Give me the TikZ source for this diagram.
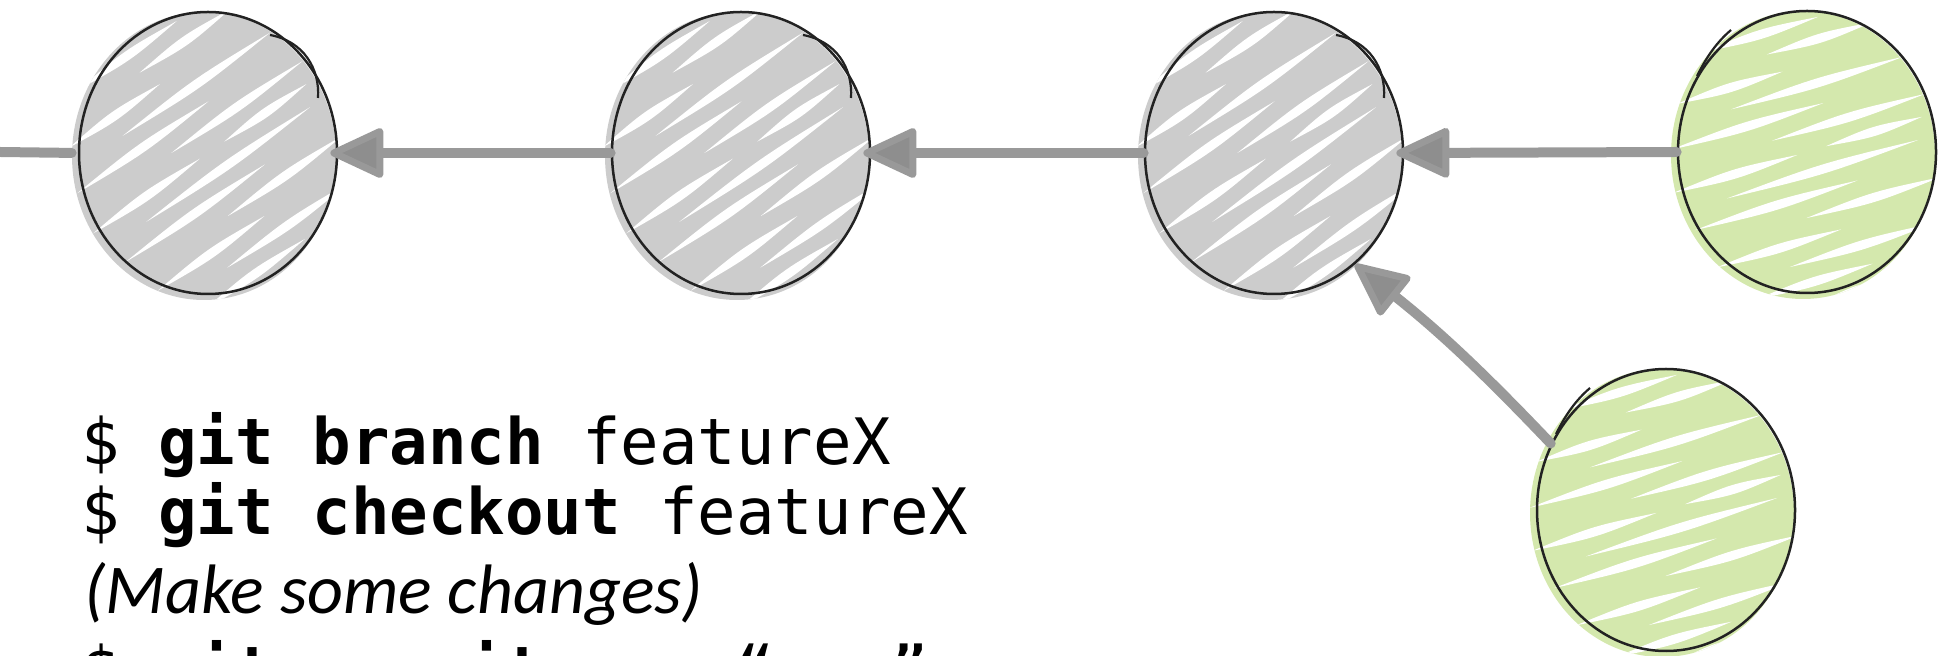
\documentclass[tikz,border=0pt]{standalone}
\usepackage{fontspec}
\setmonofont{DejaVu Sans Mono}
\newfontfamily\notefont{Carlito}
\usetikzlibrary{shapes.geometric, arrows.meta, calc}
\definecolor{commitgray}{HTML}{CCCCCC}
\definecolor{commitgreen}{HTML}{D4E8AD}
\definecolor{edgegray}{HTML}{999999}
\definecolor{tipgray}{HTML}{8E8E8E}
\definecolor{inkblack}{HTML}{222222}
\newcommand\commitbody[3]{%
  \fill[#2] ($(#1.center)+(-4,3)$) ellipse [x radius=66pt, y radius=72pt];
  \begin{scope}
    \clip ($(#1.center)+(-4,3)$) ellipse [x radius=66pt, y radius=72pt];
    \begin{scope}[shift={(#1.center)}, rotate=#3]
      \foreach \k/\p/\q in {-7/-40/30, -6/-70/50, -5/-10/100, -4/-110/0, -3/-60/120, -2/-130/30, -1/-30/130, 0/-140/-10, 0/20/120, 1/-90/110, 2/-130/40, 3/-20/120, 4/-120/10, 5/-50/100, 6/-90/30, 7/-30/50}
        \fill[white] (\p,\k*21) .. controls ({(\p+\q)/2},\k*21-6) .. (\q,\k*21) .. controls ({(\p+\q)/2},\k*21+6) .. cycle;
    \end{scope}
  \end{scope}
  \draw[inkblack, line width=1.25pt] (#1.center) ellipse [x radius=64.5pt, y radius=70.5pt];
}
\newcommand\graycommit[1]{%
  \commitbody{#1}{commitgray}{35}
  \begin{scope}[shift={(#1.center)}]
    \draw[inkblack, line width=1.1pt] (62,-118) .. controls (95,-112) and (112,-85) .. (110,-55);
  \end{scope}
}
\newcommand\greencommit[1]{%
  \commitbody{#1}{commitgreen}{17}
  \begin{scope}[shift={(#1.center)}]
    \draw[inkblack, line width=1.1pt] (-110,-76) .. controls (-100,-96) and (-90,-110) .. (-76,-122);
  \end{scope}
}
\begin{document}
\begin{tikzpicture}[x=0.5pt, y=-0.5pt,
  commit/.style={ellipse, inner sep=0pt, minimum width=130pt, minimum height=142pt},
  edge/.style={draw=edgegray, line width=5pt, line cap=round, line join=round},
  tip/.style={-{Triangle[length=29pt, width=26pt, line width=3.5pt, fill=tipgray, round]}},
  cmd/.style={anchor=base west, inner sep=0pt, font=\ttfamily\fontsize{32}{38}\selectfont},
  note/.style={anchor=base west, inner sep=0pt, font=\notefont\itshape\fontsize{35}{40}\selectfont}
]
\useasboundingbox (0,0) rectangle (1942,656);

\node[commit] (c1) at (208,153) {};
\node[commit] (c2) at (741,153) {};
\node[commit] (c3) at (1274,153) {};
\node[commit] (c4) at (1807,152) {};
\node[commit] (c5) at (1666,510) {};
\coordinate (off) at (0,152);

\graycommit{c1}
\graycommit{c2}
\graycommit{c3}
\greencommit{c4}
\greencommit{c5}

\draw[edge, shorten >=3pt] (off) -- (c1.west);
\draw[edge, tip, shorten >=-4pt] (c2.west) -- (c1.east);
\draw[edge, tip, shorten >=-4pt] (c3.west) -- (c2.east);
\draw[edge, tip, shorten >=-4pt] (c4.west) -- (c3.east);
\draw[edge, tip] (c5.150) to[bend right=4] (c3.-54);

\node[cmd] (l1) at (81,465) {\$ \textbf{git branch} featureX};
\node[cmd] (l2) at (81,535) {\$ \textbf{git checkout} featureX};
\node[note] (l3) at (84,614) {(Make some changes)};
\node[cmd] (l4) at (81,692) {\$ \textbf{git commit} -am “...”};
\end{tikzpicture}
\end{document}
